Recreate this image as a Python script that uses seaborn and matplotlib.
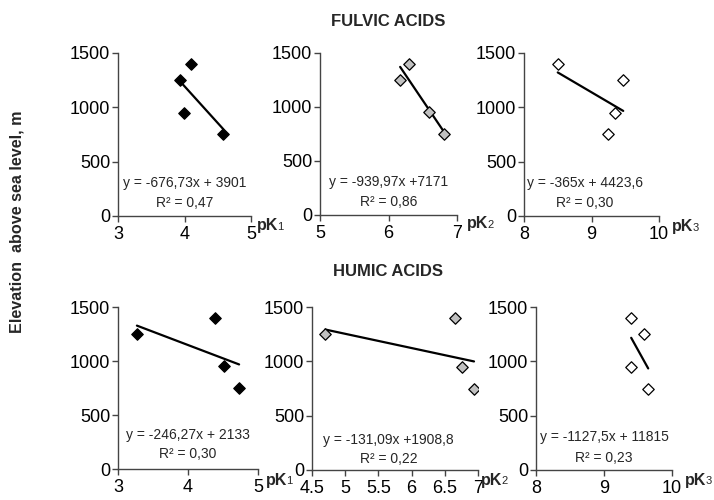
import matplotlib
matplotlib.use("Agg")
import matplotlib.pyplot as plt
import matplotlib.transforms as mtransforms
import seaborn as sns
import pandas as pd

# ---------------- data ----------------
fa_pk1 = [3.93, 3.99, 4.10, 4.58]
fa_pk1_elev = [1250, 950, 1400, 750]
fa_pk2 = [6.17, 6.59, 6.30, 6.81]
fa_pk2_elev = [1250, 950, 1400, 750]
fa_pk3 = [9.47, 9.35, 8.50, 9.24]
fa_pk3_elev = [1250, 950, 1400, 750]

ha_pk1 = [3.27, 4.51, 4.39, 4.73]
ha_pk1_elev = [1250, 950, 1400, 750]
ha_pk2 = [4.70, 6.76, 6.65, 6.94]
ha_pk2_elev = [1250, 950, 1400, 750]
ha_pk3 = [9.59, 9.40, 9.40, 9.65]
ha_pk3_elev = [1250, 950, 1400, 750]

slopes = [-676.73, -939.97, -365.0, -246.27, -131.09, -1127.5]
intercepts = [3901, 7171, 4423.6, 2133, 1908.8, 11815]
eq_texts = ["y = -676,73x + 3901", "y = -939,97x +7171", "y = -365x + 4423,6",
            "y = -246,27x + 2133", "y = -131,09x +1908,8", "y = -1127,5x + 11815"]
r2_texts = ["R² = 0,47", "R² = 0,86", "R² = 0,30",
            "R² = 0,30", "R² = 0,22", "R² = 0,23"]
pk_digits = ["1", "2", "3", "1", "2", "3"]

xlims = [(3, 5), (5, 7), (8, 10), (3, 5), (4.5, 7), (8, 10)]
xticks = [[3, 4, 5], [5, 6, 7], [8, 9, 10], [3, 4, 5],
          [4.5, 5, 5.5, 6, 6.5, 7], [8, 9, 10]]
xticklabels = [["3", "4", "5"], ["5", "6", "7"], ["8", "9", "10"], ["3", "4", "5"],
               ["4.5", "5", "5.5", "6", "6.5", "7"], ["8", "9", "10"]]
yticks = [0, 500, 1000, 1500]
yticklabels = ["0", "500", "1000", "1500"]

titles = ["FULVIC ACIDS", "HUMIC ACIDS"]
ylabel = "Elevation  above sea level, m"

# ---------------- style ----------------
sns.set_theme(style="white")
plt.rcParams["font.family"] = ["Liberation Sans", "DejaVu Sans"]
plt.rcParams["axes.edgecolor"] = "#444444"
plt.rcParams["axes.linewidth"] = 1.0

W, H = 714, 500
fig = plt.figure(figsize=(W / 100, H / 100), dpi=100)

# pixel boxes: left, right, top(1500), bottom(0)
boxes = [(118, 251, 53, 216), (320, 457, 53, 215), (524, 659, 53, 216),
         (118, 258, 307, 469), (312, 478, 307, 470), (536, 672, 307, 470)]

datasets = [(fa_pk1, fa_pk1_elev), (fa_pk2, fa_pk2_elev), (fa_pk3, fa_pk3_elev),
            (ha_pk1, ha_pk1_elev), (ha_pk2, ha_pk2_elev), (ha_pk3, ha_pk3_elev)]
faces = ["black", "#c0c0c0", "white", "black", "#c0c0c0", "white"]

# label placements (pixel offsets relative to the axis end)
pk_offsets = [(6, -10), (10, -9), (13, -11), (8, -11), (3, -10), (13, -10)]
eq_pos = [(0.5, 304, 120), (0.5, 304, 120), (0.45, 304, 120),
          (0.5, 315, 139), (0.46, 280, 100), (0.5, 300, 114)]

for i, ((l, r, t, b), (xs, ys)) in enumerate(zip(boxes, datasets)):
    ax = fig.add_axes([l / W, 1 - b / H, (r - l) / W, (b - t) / H])
    df = pd.DataFrame({"x": xs, "y": ys})
    sns.scatterplot(data=df, x="x", y="y", ax=ax, marker="D", s=34,
                    color=faces[i], edgecolor="black", linewidth=0.9, zorder=3)
    xmin, xmax = min(xs), max(xs)
    line = pd.DataFrame({"x": [xmin, xmax],
                         "y": [slopes[i] * xmin + intercepts[i],
                               slopes[i] * xmax + intercepts[i]]})
    sns.lineplot(data=line, x="x", y="y", ax=ax, color="black", linewidth=1.6,
                 zorder=2)
    ax.set_xlim(*xlims[i])
    ax.set_ylim(0, 1500)
    ax.set_xticks(xticks[i])
    ax.set_xticklabels(xticklabels[i])
    ax.set_yticks(yticks)
    ax.set_yticklabels(yticklabels)
    ax.set_xlabel("")
    ax.set_ylabel("")
    for s in ["top", "right"]:
        ax.spines[s].set_visible(False)
    ax.spines["left"].set_color("#444444")
    ax.spines["bottom"].set_color("#444444")
    ax.tick_params(axis="both", which="major", direction="out", length=4.5,
                   width=1, color="#444444", labelsize=13, labelcolor="black",
                   bottom=True, left=True)
    ax.tick_params(axis="y", pad=1)
    ax.tick_params(axis="x", pad=2.5)
    ax.patch.set_alpha(0)

    tr = mtransforms.blended_transform_factory(ax.transAxes, ax.transData)
    fx, ey, ry = eq_pos[i]
    ax.text(fx, ey, eq_texts[i], transform=tr, ha="center", va="center",
            fontsize=10)
    ax.text(fx, ry, r2_texts[i], transform=tr, ha="center", va="center",
            fontsize=10)

    dx, dy = pk_offsets[i]
    pk = ax.annotate("pK", xy=(1, 0), xycoords="axes fraction",
                     xytext=(dx * 0.72, dy * 0.72), textcoords="offset points",
                     ha="left", va="center", fontsize=11.5, fontweight="bold",
                     annotation_clip=False)
    ax.annotate(pk_digits[i], xy=(1, 0), xycoords=pk,
                xytext=(-0.6, 0.8), textcoords="offset points",
                ha="left", va="bottom", fontsize=8, fontweight="normal",
                annotation_clip=False)

fig.text(388 / W, 1 - 21 / H, titles[0], ha="center", va="center",
         fontsize=12, fontweight="bold")
fig.text(388 / W, 1 - 272 / H, titles[1], ha="center", va="center",
         fontsize=12, fontweight="bold")
fig.text(17 / W, 1 - 222 / H, ylabel, rotation=90, ha="center", va="center",
         fontsize=11.6, fontweight="bold")

fig.savefig("out.png", dpi=100)
